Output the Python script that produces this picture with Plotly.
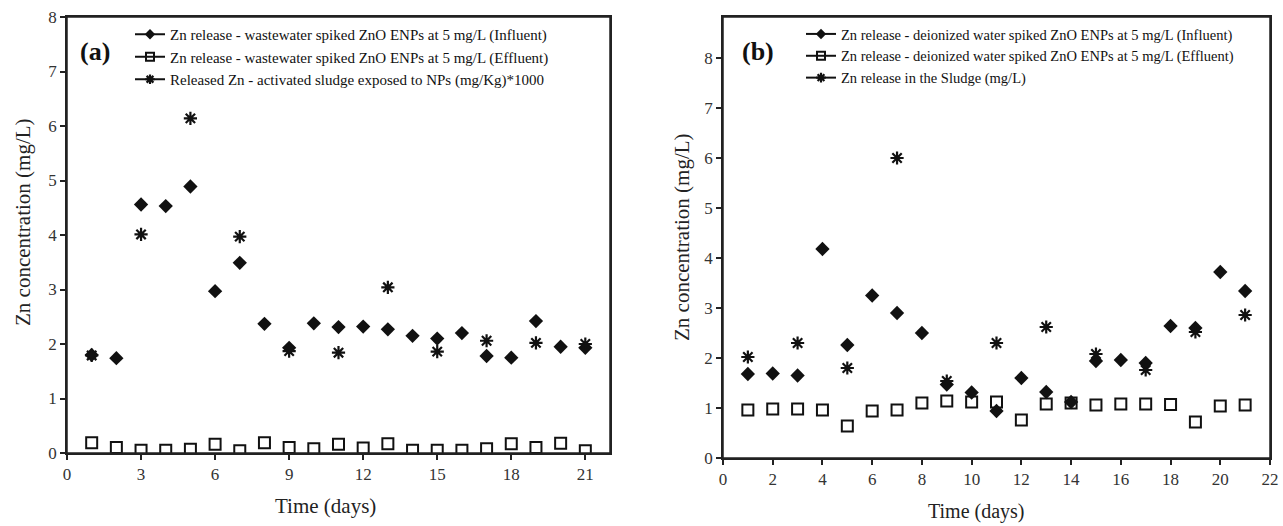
import plotly.graph_objects as go

W, H = 1283, 526
ML, MR, MT, MB = 67, 13, 17, 68

# ---- Panel (a) data ----
days_a = list(range(1, 22))
influent_a = [1.80, 1.74, 4.56, 4.53, 4.89, 2.97, 3.49, 2.37, 1.93, 2.38, 2.31, 2.32, 2.27,
              2.15, 2.10, 2.20, 1.78, 1.75, 2.42, 1.95, 1.93]
effluent_a = [0.19, 0.10, 0.05, 0.05, 0.07, 0.16, 0.04, 0.19, 0.10, 0.08, 0.16, 0.09, 0.17,
              0.05, 0.05, 0.05, 0.08, 0.17, 0.10, 0.18, 0.04]
sludge_days_a = [1, 3, 5, 7, 9, 11, 13, 15, 17, 19, 21]
sludge_a = [1.79, 4.01, 6.14, 3.97, 1.87, 1.84, 3.04, 1.86, 2.06, 2.02, 2.00]

# ---- Panel (b) data ----
days_b = list(range(1, 22))
influent_b = [1.68, 1.69, 1.65, 4.18, 2.26, 3.25, 2.90, 2.50, 1.47, 1.31, 0.94, 1.60, 1.32,
              1.12, 1.94, 1.96, 1.90, 2.64, 2.60, 3.72, 3.34]
effluent_b = [0.96, 0.98, 0.98, 0.96, 0.64, 0.94, 0.96, 1.10, 1.14, 1.12, 1.12, 0.76, 1.08,
              1.10, 1.06, 1.08, 1.08, 1.07, 0.72, 1.04, 1.06]
sludge_days_b = [1, 3, 5, 7, 9, 11, 13, 15, 17, 19, 21]
sludge_b = [2.02, 2.30, 1.80, 6.00, 1.54, 2.30, 2.62, 2.08, 1.76, 2.52, 2.86]

names_a = ["Zn release - wastewater spiked ZnO ENPs at 5 mg/L (Influent)",
           "Zn release - wastewater spiked ZnO ENPs at 5 mg/L (Effluent)",
           "Released Zn - activated sludge exposed to NPs (mg/Kg)*1000"]
names_b = ["Zn release - deionized water spiked ZnO ENPs at 5 mg/L (Influent)",
           "Zn release - deionized water spiked ZnO ENPs at 5 mg/L (Effluent)",
           "Zn release in the Sludge (mg/L)"]
xticks_a = [0, 3, 6, 9, 12, 15, 18, 21]
xticks_b = [0, 2, 4, 6, 8, 10, 12, 14, 16, 18, 20, 22]
yticks = [0, 1, 2, 3, 4, 5, 6, 7, 8]

FONT = "Liberation Serif, Times New Roman, serif"
BLACK = "#111111"
AXC = "#222222"

PW, PH = W - ML - MR, H - MT - MB

def px_x(p):
    return (p - ML) / PW

def px_y(p):
    return 1 - (p - MT) / PH

fig = go.Figure()

dia = dict(symbol="diamond", size=11, color=BLACK)
sq = dict(symbol="square-open", size=11, color=BLACK, line=dict(width=2, color=BLACK))
ast = dict(symbol="asterisk-open", size=11, color=BLACK, line=dict(width=2.2, color=BLACK))

def add_panel(xa, ya, legend, days, inf, eff, sdays, sl, names):
    fig.add_trace(go.Scatter(x=days, y=eff, mode="markers", marker=sq, xaxis=xa, yaxis=ya,
                             showlegend=False))
    fig.add_trace(go.Scatter(x=days, y=inf, mode="markers", marker=dia, xaxis=xa, yaxis=ya,
                             showlegend=False))
    fig.add_trace(go.Scatter(x=sdays, y=sl, mode="markers", marker=ast, xaxis=xa, yaxis=ya,
                             showlegend=False))
    # legend entries (line + marker sample)
    for nm, mk in zip(names, [dia, sq, ast]):
        m = dict(mk)
        m["size"] = 8
        fig.add_trace(go.Scatter(x=[None], y=[None], mode="lines+markers", name=nm,
                                 marker=m, line=dict(color=BLACK, width=2),
                                 xaxis=xa, yaxis=ya, legend=legend))

add_panel("x", "y", "legend", days_a, influent_a, effluent_a, sludge_days_a, sludge_a, names_a)
add_panel("x2", "y2", "legend2", days_b, influent_b, effluent_b, sludge_days_b, sludge_b, names_b)

axis_common = dict(showline=True, linecolor=AXC, linewidth=1.5, mirror=True,
                   ticks="outside", ticklen=5, tickwidth=1.5, tickcolor=AXC,
                   showgrid=False, zeroline=False, automargin=False,
                   title=dict(text=" "),
                   tickfont=dict(family=FONT, size=17, color="#333"))

legend_common = dict(bgcolor="rgba(0,0,0,0)",
                     xanchor="left", yanchor="top", itemwidth=30, tracegroupgap=0)

title_font = dict(family=FONT, size=21, color="#222")

def ann(text, x, y, size=None, bold=False, angle=0, color="#222"):
    f = dict(title_font)
    if size:
        f["size"] = size
    f["color"] = color
    return dict(text=f"<b>{text}</b>" if bold else text, x=px_x(x), y=px_y(y),
                xref="paper", yref="paper", xanchor="center", yanchor="middle",
                showarrow=False, textangle=angle, font=f)

SUF = "\u00a0\u00a0\u00a0\u00a0"

# plot-area frames (box around each panel)
frames = [dict(type="rect", xref=f"{xa} domain", yref=f"{ya} domain", x0=0, x1=1, y0=0, y1=1,
               line=dict(color=AXC, width=1.5), layer="above")
          for xa, ya in [("x", "y"), ("x2", "y2")]]

fig.update_layout(
    width=W, height=H,
    margin=dict(l=ML, r=MR, t=MT, b=MB, autoexpand=False),
    paper_bgcolor="white", plot_bgcolor="white",
    xaxis=dict(domain=[px_x(67), px_x(610)], range=[0, 22], tickvals=xticks_a, anchor="y",
               **axis_common),
    yaxis=dict(domain=[px_y(453), px_y(17)], range=[0, 8], tickvals=yticks, anchor="x",
               ticksuffix=SUF, **axis_common),
    xaxis2=dict(domain=[px_x(723), px_x(1270)], range=[0, 22], tickvals=xticks_b, anchor="y2",
                **axis_common),
    yaxis2=dict(domain=[px_y(458), px_y(17)], range=[0, 8.82], tickvals=yticks, anchor="x2",
                ticksuffix=SUF, **axis_common),
    legend=dict(x=px_x(130), y=px_y(18), font=dict(family=FONT, size=15, color=BLACK),
                **legend_common),
    legend2=dict(x=px_x(801), y=px_y(18), font=dict(family=FONT, size=14.5, color=BLACK),
                 **legend_common),
    shapes=frames,
    annotations=[
        ann("(a)", 95, 52, size=26, bold=True, color=BLACK),
        ann("(b)", 758, 52, size=26, bold=True, color=BLACK),
        ann("Zn concentration (mg/L)", 23, 222, angle=-90),
        ann("Zn concentration (mg/L)", 682, 237, angle=-90),
        ann("Time (days)", 325, 506),
        ann("Time (days)", 976, 511, size=20),
    ],
)

fig.write_html("out.html", config={"displayModeBar": False},
               post_script="document.body.style.margin='0';document.body.style.overflow='hidden';")
